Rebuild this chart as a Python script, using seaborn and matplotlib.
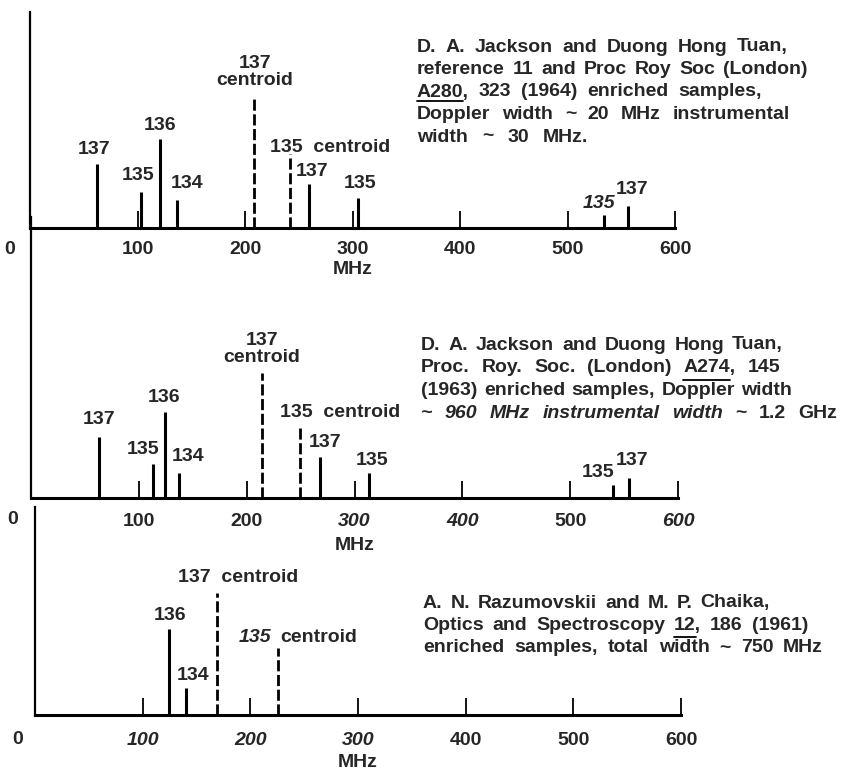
import matplotlib
matplotlib.use("Agg")
import matplotlib.pyplot as plt
import seaborn as sns
import pandas as pd
from matplotlib.lines import Line2D

# ---------------- data ----------------
# Panel 1: Jackson & Duong Hong Tuan (1964)
p1_pos = [62.0, 103.3, 120.9, 136.5, 208.4, 241.9, 259.5, 305.1, 534.0, 556.3]
p1_height = [64, 36, 89, 28, 129, 74, 44, 30, 13, 22]
p1_label = ["137", "135", "136", "134", "137\ncentroid", "135  centroid",
            "137", "135", "135", "137"]
p1_kind = ["line", "line", "line", "line", "centroid", "centroid",
           "line", "line", "line", "line"]

# Panel 2: Jackson & Duong Hong Tuan (1963)
p2_pos = [63.1, 113.2, 124.3, 137.3, 214.3, 249.5, 268.1, 313.5, 539.9, 554.7]
p2_height = [61, 34, 86, 25, 125, 72, 41, 25, 13, 20]
p2_label = ["137", "135", "136", "134", "137\ncentroid", "135  centroid",
            "137", "135", "135", "137"]
p2_kind = p1_kind

# Panel 3: Razumovskii & Chaika (1961)
p3_pos = [124.4, 140.2, 169.0, 225.6]
p3_height = [86, 27, 122, 67]
p3_label = ["136", "134", "137  centroid", "135  centroid"]
p3_kind = ["line", "line", "centroid", "centroid"]

tick_values = [100, 200, 300, 400, 500, 600]
tick_labels = ["100", "200", "300", "400", "500", "600"]
axis_unit = "MHz"

p1_text = ["D. A. Jackson and Duong Hong Tuan,",
           "reference 11 and Proc Roy Soc (London)",
           "A280, 323 (1964) enriched samples,",
           "Doppler width ~ 20 MHz instrumental",
           "width ~ 30 MHz."]
p2_text = ["D. A. Jackson and Duong Hong Tuan,",
           "Proc. Roy. Soc. (London) A274, 145",
           "(1963) enriched samples, Doppler width",
           "~ 960 MHz instrumental width ~ 1.2 GHz"]
p3_text = ["A. N. Razumovskii and M. P. Chaika,",
           "Optics and Spectroscopy 12, 186 (1961)",
           "enriched samples, total width ~ 750 MHz"]
underlined = ["A280", "A274", "12"]

# ---------------- layout / style ----------------
W, H = 843, 772
sns.set_theme(style="white")
plt.rcParams["font.family"] = ["Liberation Sans", "DejaVu Sans"]
plt.rcParams["font.weight"] = "bold"
FS = 14
TFS = 14

fig = plt.figure(figsize=(W / 100, H / 100), dpi=100)
fig.patch.set_facecolor("white")


def fx(x):
    return x / W


def fy(y):
    return 1 - y / H


# label offsets (pixels) relative to each line top
p1_off = [(-3, 14), (-3, 17), (0, 13), (10, 17), (1, 27), (40, 7),
          (3, 12), (2, 15), (-5, 11), (4, 17)]
p2_off = [(0, 17), (-10, 14), (-1, 14), (9, 16), (0, 24), (40, 13),
          (5, 14), (3, 12), (-15, 12), (3, 17)]
p3_off = [(1, 14), (7, 13), (21, 15), (19, 11)]
p1_ital = [False] * 8 + [True, False]
p2_ital = [False] * 10
p3_ital_num = [False, False, False, True]

panels = [
    dict(rect=[30, 228, 645, 216], pos=p1_pos, h=p1_height, lab=p1_label,
         kind=p1_kind, off=p1_off, ital=p1_ital, inum=[False] * 10,
         tick_ital=[], pad=9, lpad=2.5, zero=(-20, -21)),
    dict(rect=[31, 498, 647, 281], pos=p2_pos, h=p2_height, lab=p2_label,
         kind=p2_kind, off=p2_off, ital=p2_ital, inum=[False] * 10,
         tick_ital=["300", "400", "600"], pad=11, lpad=4.5, zero=(-18, -22)),
    dict(rect=[35, 715, 646, 208], pos=p3_pos, h=p3_height, lab=p3_label,
         kind=p3_kind, off=p3_off, ital=[False] * 4, inum=p3_ital_num,
         tick_ital=["100", "200", "300"], pad=12.5, lpad=3.5, zero=(-17, -25)),
]

for P in panels:
    x0, ybase, wpx, hpx = P["rect"]
    ax = fig.add_axes([fx(x0), fy(ybase), wpx / W, hpx / H])
    ax.set_facecolor("none")
    ax.set_xlim(0, 600)
    ax.set_ylim(0, hpx)
    df = pd.DataFrame({"pos": P["pos"], "h": P["h"], "kind": P["kind"]})
    solid = df[df.kind == "line"]
    dashed = df[df.kind == "centroid"]
    ax.vlines(solid.pos, 0, solid.h, colors="black", linewidth=2.2)
    ax.vlines(dashed.pos, 0, dashed.h, colors="black", linewidth=2.0,
              linestyles=[(0, (4, 1.3))])
    for i, (p, h, lab) in enumerate(zip(P["pos"], P["h"], P["lab"])):
        dx, dy = P["off"][i]
        if P["inum"][i]:
            num, rest = lab.split("  ", 1)
            ax.annotate(num, (p, h), xytext=(dx - 42, dy), textcoords="offset pixels",
                        ha="center", va="center", fontsize=FS, style="italic",
                        annotation_clip=False)
            ax.annotate(rest, (p, h), xytext=(dx + 22, dy), textcoords="offset pixels",
                        ha="center", va="center", fontsize=FS, annotation_clip=False)
        else:
            ax.annotate(lab, (p, h), xytext=(dx, dy), textcoords="offset pixels",
                        ha="center", va="center", fontsize=FS, linespacing=0.95,
                        style="italic" if P["ital"][i] else "normal",
                        annotation_clip=False)
    sns.despine(ax=ax, top=True, right=True)
    ax.spines["left"].set_linewidth(1.6)
    ax.spines["bottom"].set_linewidth(2.2)
    for s in ("left", "bottom"):
        ax.spines[s].set_color("black")
    ax.set_yticks([])
    ax.set_xticks(tick_values, tick_labels)
    ax.tick_params(axis="x", direction="in", length=12, width=1.3, color="black",
                   pad=P["pad"], labelsize=FS, bottom=True)
    for t in ax.get_xticklabels():
        t.set_fontweight("bold")
        if t.get_text() in P["tick_ital"]:
            t.set_style("italic")
    ax.set_xlabel(axis_unit, fontsize=FS, fontweight="bold", labelpad=P["lpad"])
    ax.annotate("0", (0, 0), xytext=P["zero"], textcoords="offset pixels",
                ha="center", va="center", fontsize=FS, annotation_clip=False)

# ---------------- justified text blocks ----------------
renderer = fig.canvas.get_renderer()


def width_of(s, style):
    t = fig.text(0, 0, s, fontsize=TFS, fontweight="bold", style=style, alpha=0)
    w = t.get_window_extent(renderer).width
    t.remove()
    return w


def justified(x0, y, line, right, italic_words=0, ul_dy=10):
    words = line.split(" ")
    styles = ["italic" if k < italic_words else "normal" for k in range(len(words))]
    widths = [width_of(w, s) for w, s in zip(words, styles)]
    gap = (right - x0 - sum(widths)) / max(len(words) - 1, 1)
    x = x0
    for w, s, wd in zip(words, styles, widths):
        fig.text(fx(x), fy(y), w, fontsize=TFS, fontweight="bold", style=s,
                 ha="left", va="center")
        for u in underlined:
            if w.rstrip(",") == u:
                uw = width_of(u, s)
                yy = fy(y + ul_dy)
                fig.add_artist(Line2D([fx(x), fx(x + uw)], [yy, yy], color="black",
                                      lw=1.3, transform=fig.transFigure))
        x += wd + gap


p1_right = [788, 807, 762, 790, 588]
p2_right = [783, 780, 792, 837]
p3_right = [770, 808, 823]

for i, line in enumerate(p1_text):
    justified(417, 47 + 22.5 * i, line, p1_right[i], ul_dy=9)
for i, line in enumerate(p2_text):
    justified(421, 345 + 22.7 * i, line, p2_right[i],
              italic_words=5 if i == 3 else 0, ul_dy=12)
for i, line in enumerate(p3_text):
    justified(423, 603 + 22.5 * i, line, p3_right[i], ul_dy=11)

fig.savefig("out.png", dpi=100)
